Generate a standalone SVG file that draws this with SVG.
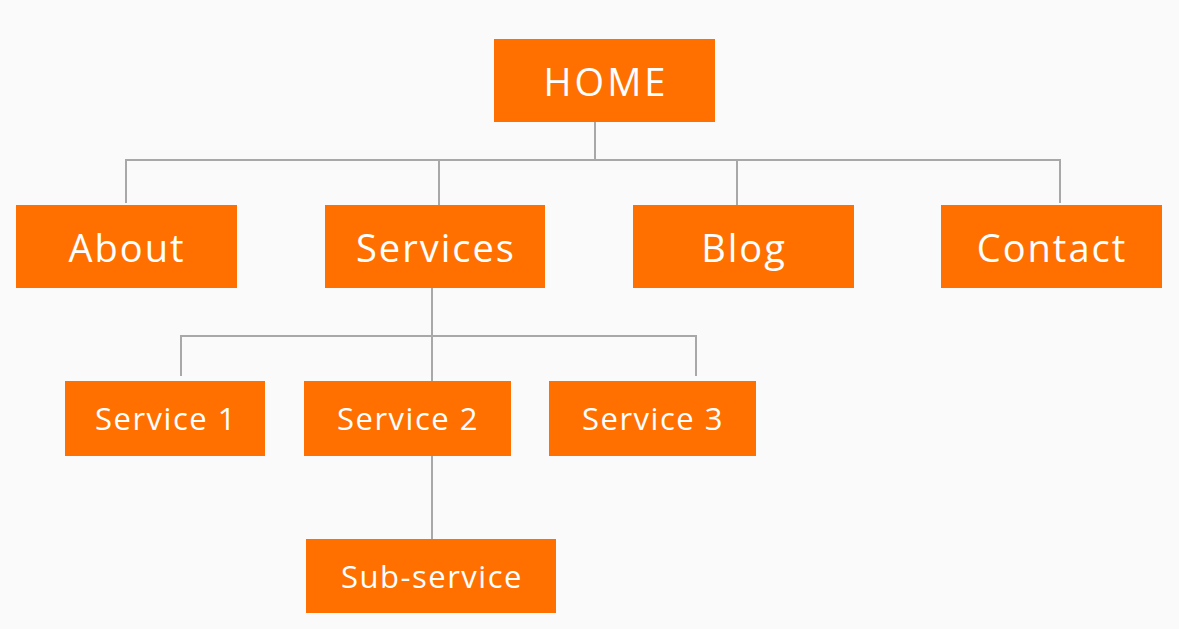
<svg xmlns="http://www.w3.org/2000/svg" width="1179" height="629" viewBox="0 0 1179 629">
<style>
.box{fill:#ff7000}
.t{fill:#ffffff;font-family:"Open Sans","Liberation Sans",sans-serif;text-anchor:middle;dominant-baseline:central}
.l1{font-size:38px;letter-spacing:3px}
.l2{font-size:38px;letter-spacing:2px}
.l3{font-size:31px;letter-spacing:1.5px}
.c{fill:none;stroke:#a8a8a8;stroke-width:2}
</style>
<rect width="1179" height="629" fill="#fafafa"/>
<g id="connectors">
<path class="c" d="M595 122V160M126 203V160H1060V203M439 160V205M737 160V205"/>
<path class="c" d="M432 288V381M181 376V336H696V376"/>
<path class="c" d="M432 456V539"/>
</g>
<g id="home"><rect class="box" x="494" y="39" width="221" height="83"/><text class="t l1" x="606" y="81">HOME</text></g>
<g id="about"><rect class="box" x="16" y="205" width="221" height="83"/><text class="t l2" x="127" y="247">About</text></g>
<g id="services"><rect class="box" x="325" y="205" width="220" height="83"/><text class="t l2" x="436" y="247">Services</text></g>
<g id="blog"><rect class="box" x="633" y="205" width="221" height="83"/><text class="t l2" x="744" y="247">Blog</text></g>
<g id="contact"><rect class="box" x="941" y="205" width="221" height="83"/><text class="t l2" x="1052" y="247">Contact</text></g>
<g id="service1"><rect class="box" x="65" y="381" width="200" height="75"/><text class="t l3" x="166" y="418">Service 1</text></g>
<g id="service2"><rect class="box" x="304" y="381" width="207" height="75"/><text class="t l3" x="408" y="418">Service 2</text></g>
<g id="service3"><rect class="box" x="549" y="381" width="207" height="75"/><text class="t l3" x="653" y="418">Service 3</text></g>
<g id="subservice"><rect class="box" x="306" y="539" width="250" height="74"/><text class="t l3" x="432" y="576">Sub-service</text></g>
</svg>
